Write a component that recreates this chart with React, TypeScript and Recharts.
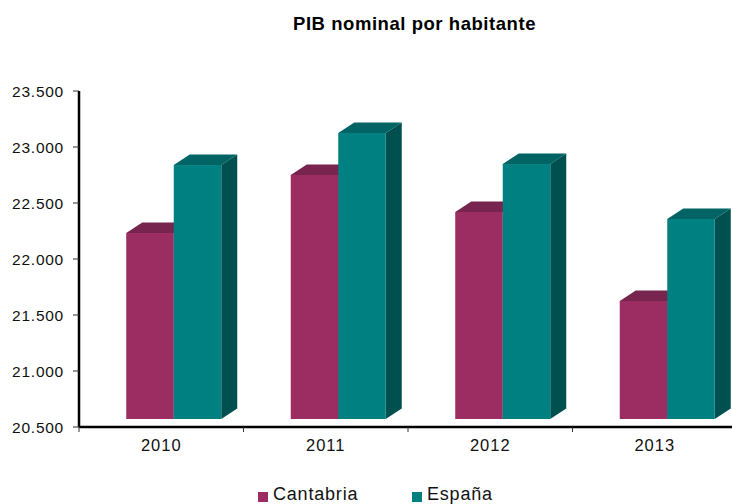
import * as React from 'react';
import { Bar, BarChart, Legend, XAxis, YAxis } from 'recharts';

const years = ['2010', '2011', '2012', '2013'];
const cantabria = [22232, 22750, 22420, 21625];
const espana = [22839, 23125, 22848, 22357];
const yTicks = [20500, 21000, 21500, 22000, 22500, 23000, 23500];

const data = years.map((year, i) => ({ year, cantabria: cantabria[i], espana: espana[i] }));

const FONT = '"Liberation Sans", Arial, sans-serif';
const BAND = 164.5;
const DEPTH_X = 16;
const DEPTH_Y = 10.5;
const FLOOR_LIFT = 8;
const SHIFT = 12.25;

const formatTick = (v: number) => String(v).replace(/(\d{3})$/, '.$1');

// box with top and side faces, base lifted off the axis
const box3d = (front: string, top: string, side: string) => (props: any) => {
  const x = props.x + SHIFT;
  const { y, width, height } = props;
  const bottom = y + height - FLOOR_LIFT;
  const right = x + width;
  return (
    <g>
      <polygon
        points={`${x},${y} ${x + DEPTH_X},${y - DEPTH_Y} ${right + DEPTH_X},${y - DEPTH_Y} ${right},${y}`}
        fill={top}
      />
      <polygon
        points={`${right},${y} ${right + DEPTH_X},${y - DEPTH_Y} ${right + DEPTH_X},${bottom - DEPTH_Y} ${right},${bottom}`}
        fill={side}
      />
      <rect x={x} y={y} width={width} height={bottom - y} fill={front} />
    </g>
  );
};

const YearTick = (props: any) => {
  const { x, payload } = props;
  const edge = x - BAND / 2;
  return (
    <g>
      <line x1={edge} x2={edge} y1={427} y2={432} stroke="#333" />
      <text x={x} y={451} textAnchor="middle" fontFamily={FONT} fontSize={16.5} letterSpacing={1} fill="#111">
        {payload.value}
      </text>
    </g>
  );
};

const LegendRow = () => (
  <div style={{ position: 'relative', height: 24, fontFamily: FONT, fontSize: 18, letterSpacing: 0.8, color: '#111' }}>
    <span style={{ position: 'absolute', left: 258, top: 12, width: 10, height: 10, background: '#9b2d62' }} />
    <span style={{ position: 'absolute', left: 273, top: 4 }}>Cantabria</span>
    <span style={{ position: 'absolute', left: 412, top: 12, width: 10, height: 10, background: '#008080' }} />
    <span style={{ position: 'absolute', left: 427, top: 4 }}>España</span>
  </div>
);

export default function App() {
  return (
    <div style={{ position: 'absolute', left: 0, top: 0, width: 732, height: 504, overflow: 'hidden', background: '#fff' }}>
      <BarChart
        width={760}
        height={504}
        data={data}
        barSize={47.5}
        barGap={0}
        margin={{ top: 91, right: 23, bottom: 0, left: 0 }}
      >
        <text x={414.5} y={30} textAnchor="middle" fontFamily={FONT} fontSize={18.5} letterSpacing={0.55} fontWeight="bold" fill="#000">
          PIB nominal por habitante
        </text>
        <XAxis
          dataKey="year"
          height={53}
          interval={0}
          axisLine={{ stroke: '#000', strokeWidth: 2.5 }}
          tickLine={false}
          tick={<YearTick />}
        />
        <YAxis
          width={79}
          domain={[20500, 23500]}
          ticks={yTicks}
          interval={0}
          tickFormatter={formatTick}
          axisLine={{ stroke: '#000', strokeWidth: 2.5 }}
          tickLine={{ stroke: '#333' }}
          tickSize={6}
          tickMargin={9}
          tick={{ fontFamily: FONT, fontSize: 15.5, fill: '#111', letterSpacing: 0.75 }}
        />
        <Legend
          content={<LegendRow />}
          wrapperStyle={{ position: 'absolute', left: 0, top: 480, width: 732, height: 24 }}
        />
        <Bar dataKey="cantabria" name="Cantabria" isAnimationActive={false} shape={box3d('#9b2d62', '#77244e', '#5e1c3d')} />
        <Bar dataKey="espana" name="España" isAnimationActive={false} shape={box3d('#008080', '#006464', '#005050')} />
      </BarChart>
    </div>
  );
}
